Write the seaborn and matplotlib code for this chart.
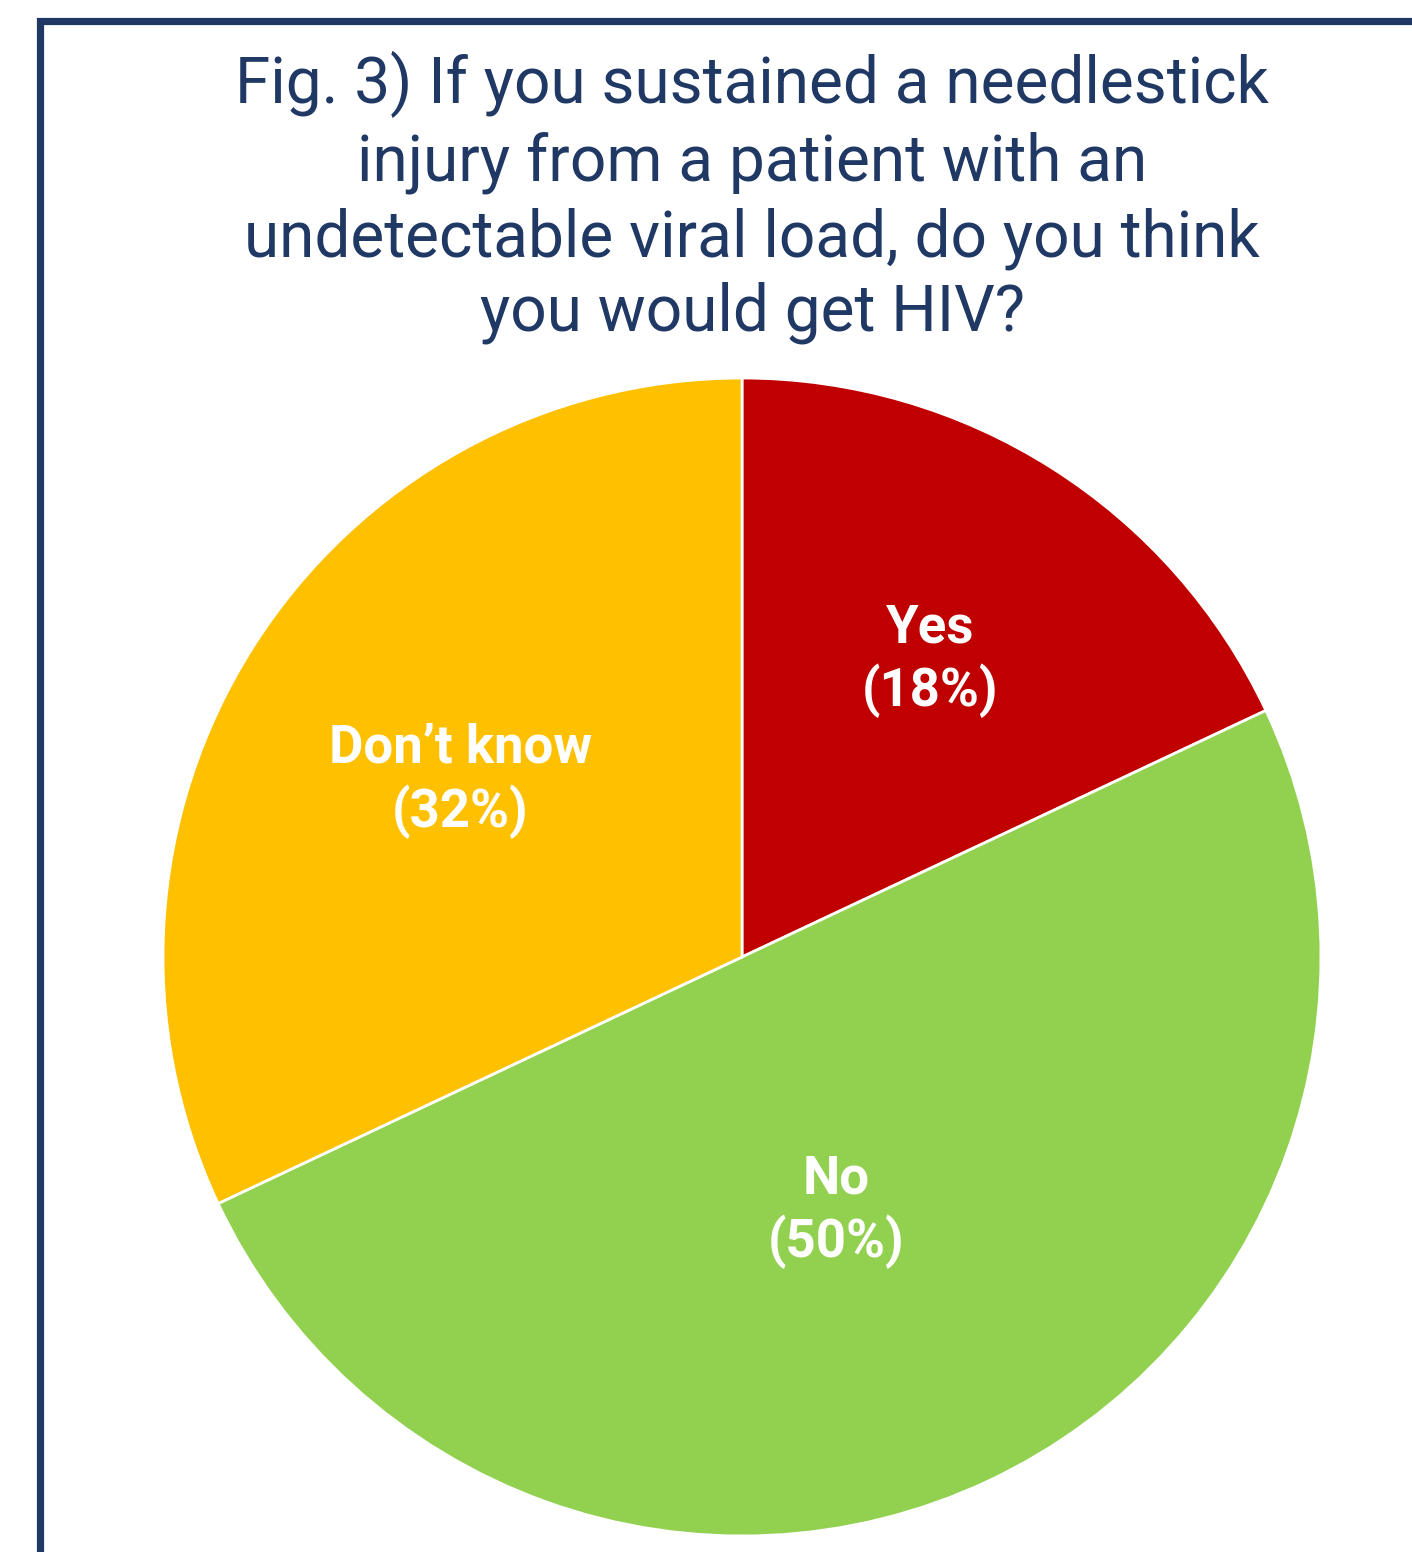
import numpy as np
import matplotlib
matplotlib.use("Agg")
import matplotlib.pyplot as plt
import seaborn as sns
from matplotlib.patches import Rectangle

# ---- data ----
categories = ["Yes", "No", "Don\u2019t know"]
values = [18, 50, 32]
title_lines = [
    "Fig. 3) If you sustained a needlestick",
    "injury from a patient with an",
    "undetectable viral load, do you think",
    "you would get HIV?",
]

# ---- style ----
sns.set_theme(style="white")
plt.rcParams['font.family'] = ['Roboto', 'DejaVu Sans']
palette = sns.color_palette(["#C00000", "#92D050", "#FFC000"])
navy = "#203864"
label_radius = [0.607, 0.468, 0.574]
label_nudge_deg = [0.0, -4.9, 0.4]

W, H = 1412, 1552
fig = plt.figure(figsize=(W / 100, H / 100), dpi=100)
fig.patch.set_facecolor("white")

# frame (extends beyond the right and bottom edges)
fig.patches.append(Rectangle((39.5 / W, -0.05), 1.2, (H - 21) / H + 0.05,
                             transform=fig.transFigure, fill=False,
                             edgecolor=navy, linewidth=5.2, zorder=0))

# title
baselines = [103, 180, 256, 331]
for line, b in zip(title_lines, baselines):
    fig.text(752 / W, 1 - b / H, line, ha="center", va="baseline",
             fontsize=46, color=navy)

# pie
cx, cy, r = 742, 957, 579
ax = fig.add_axes([(cx - r) / W, (H - cy - r) / H, 2 * r / W, 2 * r / H])
wedges, _ = ax.pie(values, colors=palette, startangle=90, counterclock=False,
                   radius=1, wedgeprops=dict(edgecolor="white", linewidth=2),
                   frame=False)
ax.set_xlim(-1, 1)
ax.set_ylim(-1, 1)
ax.set_aspect("auto")
ax.axis("off")

total = sum(values)
for w, cat, v, lr, nd in zip(wedges, categories, values, label_radius, label_nudge_deg):
    mid = np.deg2rad((w.theta1 + w.theta2) / 2 + nd)
    ax.text(lr * np.cos(mid), lr * np.sin(mid), f"{cat}\n({round(100 * v / total)}%)",
            ha="center", va="center", multialignment="center",
            fontsize=38, fontweight="bold", color="white", linespacing=1.25)

fig.savefig("out.png", dpi=100, facecolor="white")
